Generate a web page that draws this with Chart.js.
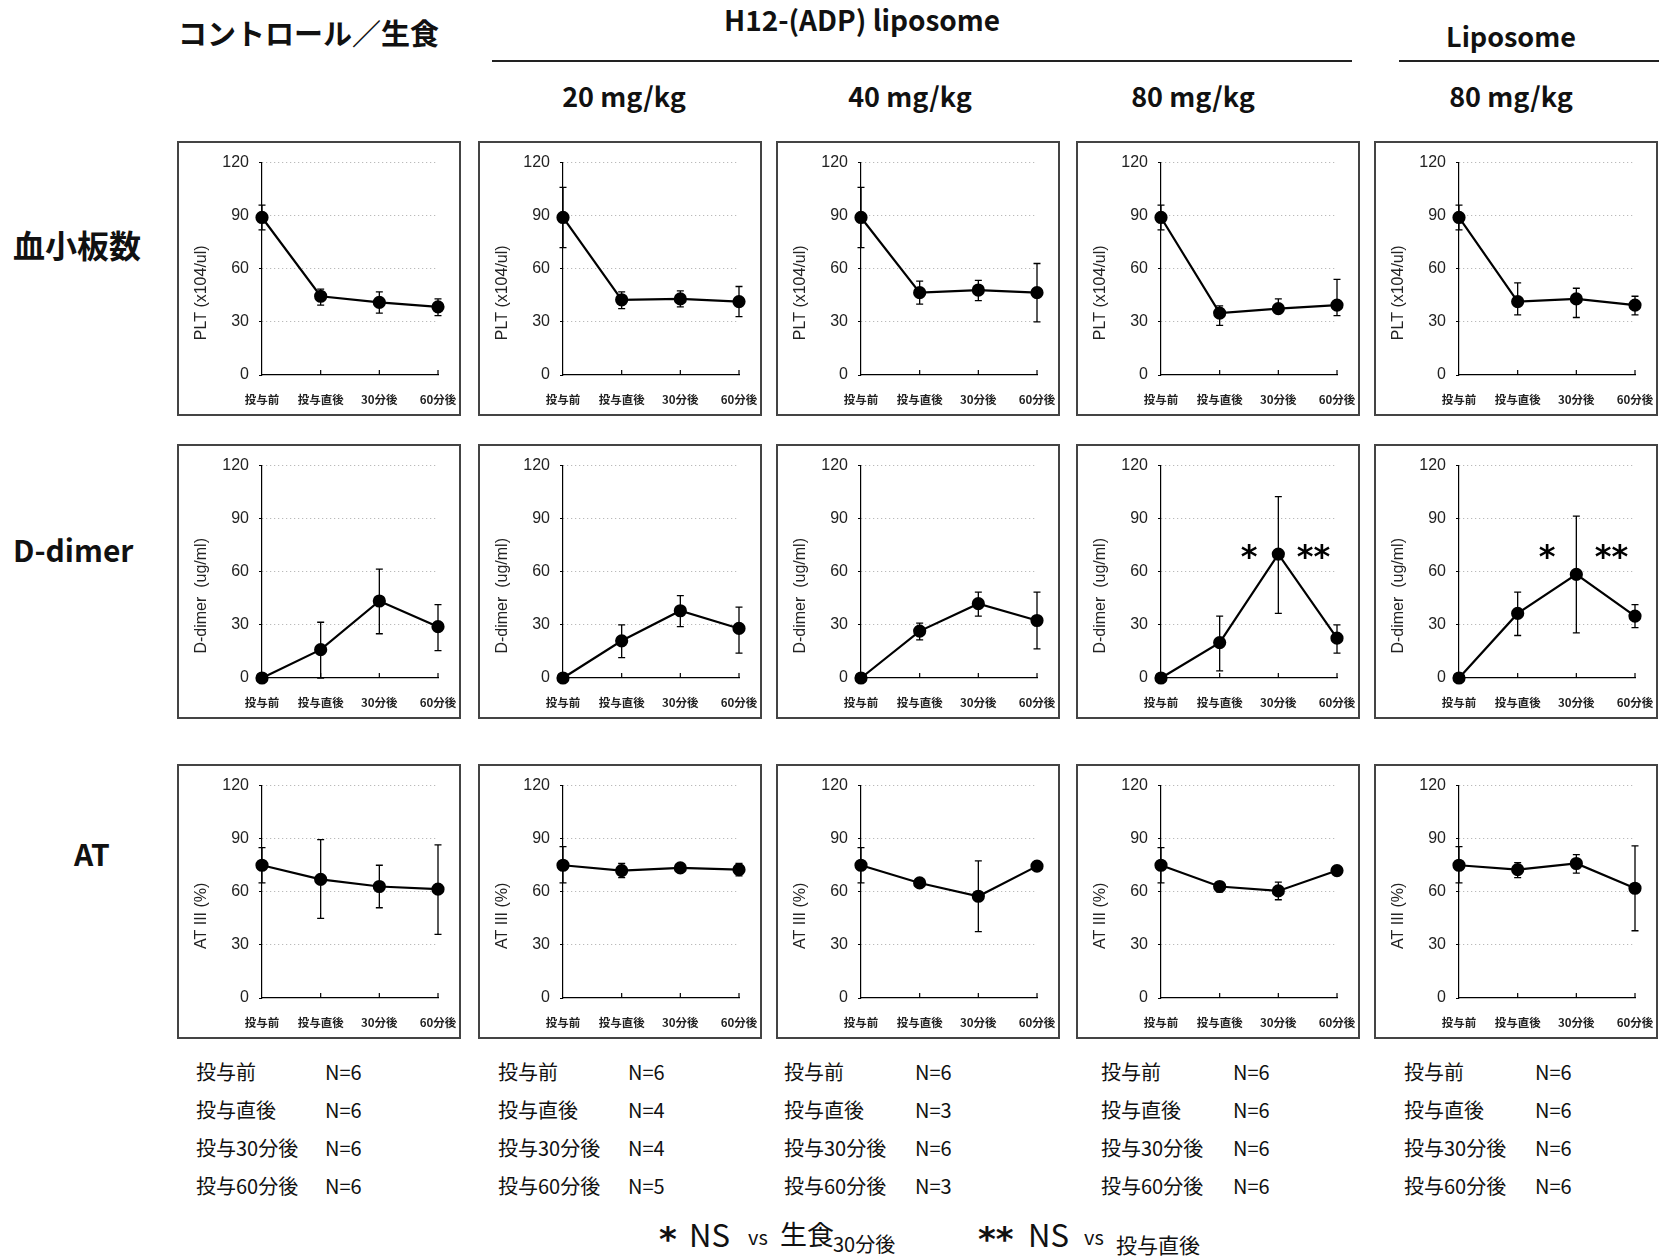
<!DOCTYPE html>
<html>
<head>
<meta charset="utf-8">
<script src="https://cdn.jsdelivr.net/npm/chart.js@4.4.1/dist/chart.umd.min.js"></script>
<style>
  body { margin: 0; background: #fff; }
  #page { position: relative; width: 1659px; height: 1256px; overflow: hidden;
          font-family: "Noto Sans CJK JP", sans-serif; color: #111; }
  .box { position: absolute; width: 280px; height: 271px; border: 2px solid #444; }
  .txt { position: absolute; white-space: nowrap; line-height: 1; }
  .hd { font-weight: bold; font-size: 27px; transform: translate(-50%, -50%); }
  .row { font-weight: bold; font-size: 30px; transform: translateY(-50%); }
  .rule { position: absolute; height: 2px; background: #222; }
  .n { font-size: 20px; transform: translateY(-50%); }
  .ft { position: absolute; white-space: nowrap; line-height: 1; transform: translateY(-50%); }
  .star { font: bold 34px "DejaVu Sans"; }
</style>
</head>
<body>
<div id="page">
  <div class="txt" style="left:178px; top:32px; font-size:29px; font-weight:bold; transform:translateY(-50%);">コントロール／生食</div>
  <div class="txt hd" style="left:862px; top:19px; font-size:28px;">H12-(ADP) liposome</div>
  <div class="rule" style="left:492px; top:60px; width:860px;"></div>
  <div class="txt hd" style="left:1511px; top:35px;">Liposome</div>
  <div class="rule" style="left:1399px; top:60px; width:260px;"></div>
  <div class="txt hd" style="left:624px; top:95px;">20 mg/kg</div>
  <div class="txt hd" style="left:910px; top:95px;">40 mg/kg</div>
  <div class="txt hd" style="left:1193px; top:95px;">80 mg/kg</div>
  <div class="txt hd" style="left:1511px; top:95px;">80 mg/kg</div>

  <div class="txt row" style="left:13px; top:244px; font-size:32px;">血小板数</div>
  <div class="txt row" style="left:13px; top:549px;">D-dimer</div>
  <div class="txt row" style="left:74px; top:853px;">AT</div>

  <div class="ft star" style="left:659px; top:1239px;">*</div>
  <div class="ft" style="left:689px; top:1233px; font-size:31px;">NS</div>
  <div class="ft" style="left:748px; top:1237px; font-size:20px;">vs</div>
  <div class="ft" style="left:780px; top:1233px; font-size:27px;">生食</div>
  <div class="ft" style="left:833px; top:1244px; font-size:20px;">30分後</div>

  <div class="ft star" style="left:978px; top:1239px;">**</div>
  <div class="ft" style="left:1028px; top:1233px; font-size:31px;">NS</div>
  <div class="ft" style="left:1084px; top:1237px; font-size:20px;">vs</div>
  <div class="ft" style="left:1116px; top:1244px; font-size:21px;">投与直後</div>
</div>

<script>
// x categories and y ticks
var timeLabels = ['投与前', '投与直後', '30分後', '60分後'];
var yMax = 120;
var yStep = 30;

// PLT (x104/ul) : mean, whisker top, whisker bottom
var pltCtrl    = [89, 44.5, 41, 38.5];
var pltCtrlHi  = [96, 48.5, 47, 43];
var pltCtrlLo  = [82, 39.5, 35, 33.5];
var plt20      = [89, 42.5, 43, 41.5];
var plt20Hi    = [106, 47, 47.5, 50];
var plt20Lo    = [72, 37.5, 38.5, 33];
var plt40      = [89, 46.5, 48, 46.5];
var plt40Hi    = [106, 53, 53.5, 63];
var plt40Lo    = [72, 40, 42, 30];
var plt80      = [89, 35, 37.5, 39.5];
var plt80Hi    = [96, 39, 43, 54];
var plt80Lo    = [82, 28, 35, 33.5];
var pltLipo    = [89, 41.5, 43, 39.5];
var pltLipoHi  = [96, 52, 49, 44.5];
var pltLipoLo  = [82, 34, 32.5, 34];

// D-dimer (ug/ml)
var ddCtrl     = [0, 16, 43.5, 29];
var ddCtrlHi   = [0, 31.5, 61.5, 41.5];
var ddCtrlLo   = [0, 0, 25, 15.5];
var dd20       = [0, 21, 38, 28];
var dd20Hi     = [0, 30, 46.5, 40];
var dd20Lo     = [0, 11.5, 29, 14];
var dd40       = [0, 26.5, 42, 32.5];
var dd40Hi     = [0, 31, 48.5, 48.5];
var dd40Lo     = [0, 21.5, 35, 16.5];
var dd80       = [0, 20, 70, 22.5];
var dd80Hi     = [0, 35, 102.5, 30];
var dd80Lo     = [0, 4, 36.5, 14];
var ddLipo     = [0, 36.5, 58.5, 35];
var ddLipoHi   = [0, 48.5, 91.5, 41.5];
var ddLipoLo   = [0, 24, 25.5, 28.5];

// AT III (%)
var atCtrl     = [75, 67, 63, 61.5];
var atCtrlHi   = [85, 89.5, 75, 86.5];
var atCtrlLo   = [65, 45, 51, 36];
var at20       = [75, 72, 73.5, 72.5];
var at20Hi     = [85.5, 76, 74.5, 76];
var at20Lo     = [65, 68, 72.5, 69];
var at40       = [75, 65, 57.5, 74.5];
var at40Hi     = [85, 65, 77.5, 74.5];
var at40Lo     = [65, 65, 37.5, 74.5];
var at80       = [75, 63, 60.5, 72];
var at80Hi     = [85, 65, 65.5, 72];
var at80Lo     = [65, 60, 55.5, 72];
var atLipo     = [75, 72.5, 76, 62];
var atLipoHi   = [85.5, 76.5, 81, 86];
var atLipoLo   = [65, 68, 70.5, 38];

// significance marks on the D-dimer panels (x = category index, y = value)
var starText  = ['*', '**'];
var starX     = [1.5, 2.6];
var starY     = 70;

// N per time point
var nLabels = ['投与前', '投与直後', '投与30分後', '投与60分後'];
var nCtrl = [6, 6, 6, 6];
var n20   = [6, 4, 4, 5];
var n40   = [6, 3, 6, 3];
var n80   = [6, 6, 6, 6];
var nLipo = [6, 6, 6, 6];

// trailing em spaces push the rotated title a little lower, as in the original
var titles = ['PLT (x104/ul)\u2003\u2003\u2003', 'D-dimer  (ug/ml)\u2003\u2003\u2003', 'AT III (%)\u2003\u2003\u2003'];

var panels = [
  [[pltCtrl, pltCtrlHi, pltCtrlLo], [plt20, plt20Hi, plt20Lo], [plt40, plt40Hi, plt40Lo], [plt80, plt80Hi, plt80Lo], [pltLipo, pltLipoHi, pltLipoLo]],
  [[ddCtrl, ddCtrlHi, ddCtrlLo], [dd20, dd20Hi, dd20Lo], [dd40, dd40Hi, dd40Lo], [dd80, dd80Hi, dd80Lo], [ddLipo, ddLipoHi, ddLipoLo]],
  [[atCtrl, atCtrlHi, atCtrlLo], [at20, at20Hi, at20Lo], [at40, at40Hi, at40Lo], [at80, at80Hi, at80Lo], [atLipo, atLipoHi, atLipoLo]]
];
var nCounts = [nCtrl, n20, n40, n80, nLipo];

var boxLeft = [177, 478, 776, 1076, 1374];
var boxTop = [141, 444, 764];
var nLabelLeft = [196, 498, 784, 1101, 1404];
var nValueLeft = [325, 628, 915, 1233, 1535];
var nRowY = [1072, 1110, 1148, 1186];

var errorBarPlugin = {
  id: 'errorBars',
  beforeDatasetsDraw: function(chart) {
    var ds = chart.data.datasets[0];
    var x = chart.scales.x, y = chart.scales.y, ctx = chart.ctx;
    ctx.save();
    ctx.strokeStyle = '#000';
    ctx.lineWidth = 1.3;
    for (var i = 0; i < ds.data.length; i++) {
      if (ds.hi[i] === ds.lo[i]) continue;
      var px = x.getPixelForValue(i);
      var yh = y.getPixelForValue(ds.hi[i]);
      var yl = y.getPixelForValue(ds.lo[i]);
      ctx.beginPath();
      ctx.moveTo(px, yh); ctx.lineTo(px, yl);
      ctx.moveTo(px - 3.5, yh); ctx.lineTo(px + 3.5, yh);
      ctx.moveTo(px - 3.5, yl); ctx.lineTo(px + 3.5, yl);
      ctx.stroke();
    }
    ctx.restore();
  }
};

// small upward tick marks on the x axis
var xTickPlugin = {
  id: 'xTicks',
  afterDraw: function(chart) {
    var x = chart.scales.x, ctx = chart.ctx;
    var y0 = chart.scales.y.getPixelForValue(0);
    ctx.save();
    ctx.strokeStyle = '#000';
    ctx.lineWidth = 1.2;
    for (var i = 1; i < timeLabels.length; i++) {
      var px = x.getPixelForValue(i);
      ctx.beginPath(); ctx.moveTo(px, y0); ctx.lineTo(px, y0 - 5); ctx.stroke();
    }
    ctx.restore();
  }
};

var starPlugin = {
  id: 'stars',
  afterDatasetsDraw: function(chart) {
    var ds = chart.data.datasets[0];
    if (!ds.stars) return;
    var ctx = chart.ctx;
    ctx.save();
    ctx.fillStyle = '#000';
    ctx.font = 'bold 32px "DejaVu Sans"';
    ctx.textAlign = 'center';
    ctx.textBaseline = 'alphabetic';
    for (var i = 0; i < starText.length; i++) {
      var px = chart.scales.x.getPixelForValue(starX[i]);
      var py = chart.scales.y.getPixelForValue(starY);
      ctx.fillText(starText[i], px, py + 13);
    }
    ctx.restore();
  }
};

function makeChart(canvas, series, title, withStars) {
  var ctx = canvas.getContext('2d');
  return new Chart(ctx, {
    type: 'line',
    data: {
      labels: timeLabels,
      datasets: [{
        data: series[0],
        hi: series[1],
        lo: series[2],
        stars: withStars,
        borderColor: '#000',
        borderWidth: 2.2,
        pointRadius: 5.5,
        pointHoverRadius: 5.5,
        pointBackgroundColor: '#000',
        pointBorderColor: '#000',
        tension: 0,
        clip: false
      }]
    },
    options: {
      responsive: false,
      animation: false,
      events: [],
      layout: { padding: { top: 16, right: 21, left: 0, bottom: 0 } },
      plugins: { legend: { display: false }, tooltip: { enabled: false } },
      scales: {
        x: {
          type: 'category',
          offset: false,
          grid: { display: false },
          border: { color: '#000', width: 1.2 },
          ticks: { color: '#222', font: { family: 'Noto Sans CJK JP', size: 11.5, weight: 'bold' },
                   padding: 10, maxRotation: 0, autoSkip: false },
          afterFit: function(s) { s.height = 39; s.paddingLeft = 0; s.paddingRight = 0; }
        },
        y: {
          min: 0,
          max: yMax,
          ticks: { stepSize: yStep, color: '#222', font: { family: 'Liberation Sans', size: 16 }, padding: 10 },
          grid: {
            color: function(c) { return c.tick.value === 0 ? 'rgba(0,0,0,0)' : '#aaa'; },
            lineWidth: 1,
            tickColor: '#000',
            tickLength: 3
          },
          border: { color: '#000', width: 1.2, dash: [1, 3] },
          title: { display: true, text: title, color: '#222',
                   font: { family: 'Liberation Sans', size: 16 }, padding: { top: 13, bottom: 0 } },
          afterFit: function(s) { s.width = 83; }
        }
      }
    },
    plugins: [errorBarPlugin, xTickPlugin, starPlugin]
  });
}

function init() {
  var page = document.getElementById('page');
  for (var r = 0; r < panels.length; r++) {
    for (var c = 0; c < panels[r].length; c++) {
      var box = document.createElement('div');
      box.className = 'box';
      box.style.left = boxLeft[c] + 'px';
      box.style.top = boxTop[r] + 'px';
      var canvas = document.createElement('canvas');
      canvas.width = 280;
      canvas.height = 271;
      box.appendChild(canvas);
      page.appendChild(box);
      makeChart(canvas, panels[r][c], titles[r], r === 1 && c >= 3);
    }
  }
  for (var g = 0; g < nCounts.length; g++) {
    for (var k = 0; k < nLabels.length; k++) {
      var a = document.createElement('div');
      a.className = 'txt n';
      a.style.left = nLabelLeft[g] + 'px';
      a.style.top = nRowY[k] + 'px';
      a.textContent = nLabels[k];
      page.appendChild(a);
      var b = document.createElement('div');
      b.className = 'txt n';
      b.style.left = nValueLeft[g] + 'px';
      b.style.top = nRowY[k] + 'px';
      b.textContent = 'N=' + nCounts[g][k];
      page.appendChild(b);
    }
  }
}

init();
</script>
</body>
</html>
